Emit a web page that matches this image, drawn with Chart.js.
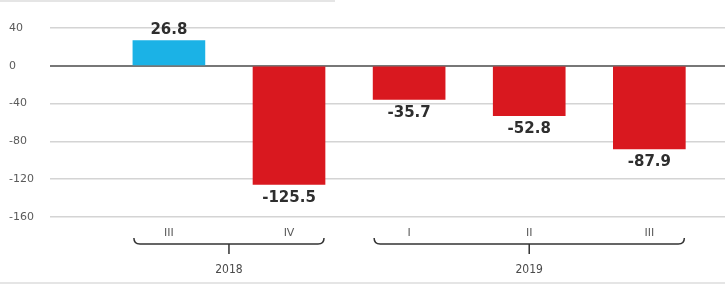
<!DOCTYPE html>
<html>
<head>
<meta charset="utf-8">
<script src="https://cdn.jsdelivr.net/npm/chart.js@4/dist/chart.umd.min.js"></script>
<style>
  html, body { margin: 0; padding: 0; background: #fff; }
  #wrap { width: 725px; height: 284px; position: relative; }
</style>
</head>
<body>
<div id="wrap"><canvas id="chart"></canvas></div>
<script>
/////////////////////////////// DATA ///////////////////////////////
const quarters = ["III", "IV", "I", "II", "III"];
const values = [26.8, -125.5, -35.7, -52.8, -87.9];
const valueLabels = ["26.8", "-125.5", "-35.7", "-52.8", "-87.9"];
const years = ["2018", "2019"];
const yearSpans = [[0, 1], [2, 4]];
const yTicks = [40, 0, -40, -80, -120, -160];

/////////////////////////////// COLORS ///////////////////////////////
const c_pos = "#1bb2e6";
const c_neg = "#d9181f";
const c_text = "#2e2e2e";
const c_tick = "#5a5a5a";

// Value labels over / under each bar
const valueLabelPlugin = {
    id: "valueLabels",
    afterDatasetsDraw(chart) {
        const ctx = chart.ctx;
        const meta = chart.getDatasetMeta(0);
        ctx.save();
        ctx.font = "bold 15px 'DejaVu Sans', sans-serif";
        ctx.fillStyle = c_text;
        ctx.textAlign = "center";
        meta.data.forEach((bar, i) => {
            if (values[i] >= 0) {
                ctx.textBaseline = "bottom";
                ctx.fillText(valueLabels[i], bar.x, bar.y - 3);
            } else {
                ctx.textBaseline = "top";
                ctx.fillText(valueLabels[i], bar.x, bar.y + 6);
            }
        });
        ctx.restore();
    }
};

// Quarter labels, year brackets and frame lines
const bracketPlugin = {
    id: "brackets",
    afterDraw(chart) {
        const ctx = chart.ctx;
        const xs = chart.scales.x;
        const meta = chart.getDatasetMeta(0);
        ctx.save();

        // faint frame lines
        ctx.strokeStyle = "#dddddd";
        ctx.lineWidth = 1.5;
        ctx.beginPath();
        ctx.moveTo(0, 1); ctx.lineTo(335, 1);
        ctx.moveTo(0, 283); ctx.lineTo(725, 283);
        ctx.stroke();

        ctx.font = "11px 'DejaVu Sans', sans-serif";
        ctx.fillStyle = c_tick;
        ctx.textAlign = "center";
        ctx.textBaseline = "middle";
        quarters.forEach((q, i) => {
            ctx.fillText(q, xs.getPixelForValue(i), 233);
        });

        const lineY = 244;
        ctx.strokeStyle = "#333333";
        ctx.lineWidth = 1.5;
        ctx.font = "12px 'DejaVu Sans Condensed', sans-serif";
        yearSpans.forEach((span, k) => {
            const b0 = meta.data[span[0]], b1 = meta.data[span[1]];
            const left = b0.x - b0.width / 2 + 1;
            const right = b1.x + b1.width / 2 - 1;
            const mid = (left + right) / 2;
            ctx.beginPath();
            ctx.moveTo(left, lineY - 6);
            ctx.quadraticCurveTo(left, lineY, left + 6, lineY);
            ctx.lineTo(right - 6, lineY);
            ctx.quadraticCurveTo(right, lineY, right, lineY - 6);
            ctx.moveTo(mid, lineY);
            ctx.lineTo(mid, lineY + 10);
            ctx.stroke();
            ctx.fillStyle = "#4a4a4a";
            ctx.fillText(years[k], mid, 270);
        });
        ctx.restore();
    }
};

/////////////////////////////// CREATE CHART ///////////////////////////////
const ctx = document.getElementById("chart").getContext("2d");
const chart = new Chart(ctx, {
    type: "bar",
    data: {
        datasets: [{
            data: values.map((v, i) => ({ x: i, y: v })),
            backgroundColor: values.map(v => v >= 0 ? c_pos : c_neg),
            borderWidth: 0,
            barThickness: 72,
        }],
    },
    options: {
        responsive: true,
        maintainAspectRatio: false,
        animation: false,
        layout: { padding: { top: 28, bottom: 67, left: 9, right: 0 } },
        plugins: { legend: { display: false }, tooltip: { enabled: false } },
        scales: {
            x: {
                type: "linear",
                offset: false,
                min: -0.99,
                max: 4.63,
                display: false,
            },
            y: {
                min: -160,
                max: 40,
                afterFit(scale) { scale.width = 41; },
                afterBuildTicks(scale) { scale.ticks = yTicks.map(v => ({ value: v })); },
                border: { display: false },
                grid: {
                    drawTicks: false,
                    color: ctx => ctx.tick && ctx.tick.value === 0 ? "#777777" : "#d4d4d4",
                    lineWidth: ctx => ctx.tick && ctx.tick.value === 0 ? 2 : 1.5,
                },
                ticks: {
                    crossAlign: "far",
                    padding: 8,
                    color: c_tick,
                    font: { family: "'DejaVu Sans', sans-serif", size: 11 },
                },
            },
        },
    },
    plugins: [valueLabelPlugin, bracketPlugin],
});
</script>
</body>
</html>
